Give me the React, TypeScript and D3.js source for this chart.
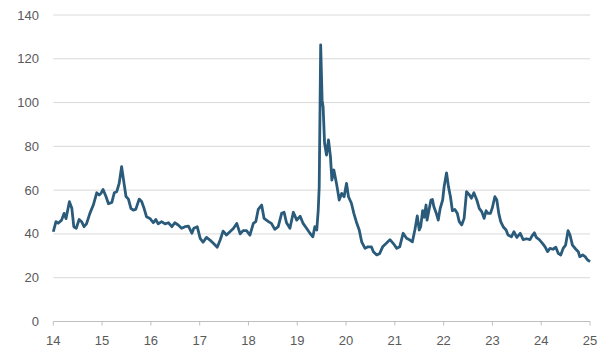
// Line chart of an index level by year, 2014 to 2025

import React from "react"
import * as d3 from "d3"

// decimal years (14 = start of 2014)
const dates = [
  14.0, 14.055, 14.1, 14.17, 14.22, 14.26, 14.33, 14.38, 14.42, 14.47, 14.53, 14.58, 14.63, 14.68, 14.75, 14.82, 14.89, 14.94, 14.98,
  15.02, 15.08, 15.13, 15.2, 15.25, 15.3, 15.35, 15.4, 15.45, 15.49, 15.54, 15.59, 15.64, 15.69, 15.76, 15.81, 15.86, 15.91, 15.98,
  16.05, 16.1, 16.15, 16.22, 16.29, 16.36, 16.43, 16.49, 16.56, 16.63, 16.7, 16.77, 16.84, 16.88, 16.95,
  17.01, 17.07, 17.14, 17.21, 17.28, 17.36, 17.42, 17.48, 17.55, 17.62, 17.69, 17.76, 17.83, 17.89, 17.96,
  18.03, 18.1, 18.15, 18.2, 18.27, 18.32, 18.41, 18.47, 18.54, 18.61, 18.68, 18.73, 18.78, 18.85, 18.92, 18.99,
  19.06, 19.12, 19.19, 19.26, 19.32, 19.36, 19.4, 19.43, 19.45, 19.48, 19.51, 19.53, 19.56, 19.6, 19.64, 19.68, 19.71, 19.75, 19.81, 19.86, 19.91, 19.96,
  20.01, 20.05, 20.11, 20.16, 20.21, 20.27, 20.32, 20.39, 20.45, 20.52, 20.56, 20.63, 20.69, 20.75, 20.82, 20.9, 20.97,
  21.04, 21.1, 21.17, 21.24, 21.31, 21.36, 21.41, 21.46, 21.5, 21.53, 21.57, 21.6, 21.64, 21.66, 21.7, 21.74, 21.77, 21.8, 21.85, 21.89, 21.93, 21.98,
  22.01, 22.06, 22.1, 22.14, 22.18, 22.23, 22.28, 22.32, 22.37, 22.42, 22.47, 22.53, 22.57, 22.62, 22.68, 22.73, 22.78, 22.83, 22.87, 22.91, 22.96,
  23.0, 23.05, 23.09, 23.13, 23.17, 23.22, 23.28, 23.32, 23.39, 23.44, 23.5, 23.57, 23.63, 23.7, 23.77, 23.81, 23.86, 23.9, 23.96,
  24.03, 24.08, 24.13, 24.18, 24.24, 24.3, 24.35, 24.4, 24.45, 24.5, 24.55, 24.59, 24.64, 24.71, 24.76, 24.79, 24.85, 24.9, 24.95, 25.0,
]

const values = [
  41, 45.6, 44.9, 46.3, 49.4, 47, 54.7, 51.7, 43.3, 42.6, 46.6, 45.6, 43.3, 44.6, 49.4, 53.2, 58.8, 57.8, 58.6,
  60.3, 57.1, 53.8, 54.4, 58.8, 59.3, 63.1, 70.7, 63.1, 57.1, 55.9, 51.7, 50.9, 51.2, 55.9, 54.8, 51.7, 47.9, 47.1,
  45.1, 46.6, 44.6, 45.6, 44.6, 45.1, 43.3, 45.1, 44.1, 42.6, 43.3, 43.6, 40.3, 42.6, 43.3,
  38, 36.2, 38.4, 37.2, 35.7, 33.9, 37.2, 41.3, 39.5, 41, 42.5, 44.8, 40, 41.5, 41.5,
  39.5, 44.8, 45.6, 51.2, 53.2, 47.1, 45.6, 44.8, 42.1, 43.3, 49.4, 49.9, 45.1, 42.6, 49.9, 46.3,
  48.1, 44.8, 42.6, 40.3, 38.7, 43.3, 41.8, 50.9, 61.5, 126.3, 101, 98, 81.4, 76, 82.9, 75.4, 64.6, 69.2, 62.3, 55.5, 58.5, 57,
  63.1, 57, 54, 49.4, 45.6, 41.8, 36.4, 33.4, 34.1, 34.1, 31.9, 30.4, 31.1, 34.1, 35.6, 37.4, 35.6,
  33.4, 34.1, 40.3, 38, 37.2, 36.4, 41.8, 48.2, 41.8, 43.3, 50.6, 47.6, 53.2, 46.3, 50.9, 55.5, 55.7, 52.4, 49.4, 46.3, 51.7, 55.5,
  61.5, 67.9, 61.5, 57, 50.6, 51.2, 49.4, 45.6, 44.1, 47.1, 59.3, 57.8, 56.3, 58.8, 55.5, 51.7, 50.2, 47.1, 50.6, 49.4, 49.4,
  52.1, 57, 55.5, 49.4, 45.6, 43.3, 41.8, 39.5, 38.7, 41, 38.4, 40.3, 37.4, 37.8, 37.4, 39, 40.5, 38.4, 37.4,
  35.6, 34.1, 31.9, 33.4, 33, 33.9, 31.1, 30.4, 33.4, 34.9, 41.5, 39.5, 34.9, 33, 31.9, 29.6, 30.4, 29.6, 28.1, 27.3,
]

const yTicks = [0, 20, 40, 60, 80, 100, 120, 140]
const xTicks = [14, 15, 16, 17, 18, 19, 20, 21, 22, 23, 24, 25]

export default function App() {
  const width = 613
  const height = 362

  const x = d3.scaleLinear().domain([14, 25]).range([53.3, 590])
  const y = d3.scaleLinear().domain([0, 140]).range([321.5, 15])

  const points: [number, number][] = dates.map((d, i) => [d, values[i]])
  const line = d3.line<[number, number]>()
    .x(d => x(d[0]))
    .y(d => y(d[1]))

  const font = "'Liberation Sans', Arial, sans-serif"

  return (
    <svg
      width={width}
      height={height}
      style={{ position: "absolute", left: 0, top: 0, background: "#fff" }}
    >
      {/* gridlines */}
      {yTicks.filter(t => t > 0).map(t => (
        <line key={t} x1={x(14)} x2={x(25)} y1={y(t)} y2={y(t)} stroke="#d9d9d9" strokeWidth={1} />
      ))}
      {/* baseline + ticks */}
      <line x1={x(14)} x2={x(25)} y1={y(0)} y2={y(0)} stroke="#bfbfbf" strokeWidth={1} />
      {xTicks.map(t => (
        <line key={t} x1={x(t)} x2={x(t)} y1={y(0)} y2={y(0) + 4} stroke="#bfbfbf" strokeWidth={1} />
      ))}
      {yTicks.map(t => (
        <text key={t} x={39} y={y(t)} dy="0.35em" textAnchor="end" fontSize={13} fill="#595959" fontFamily={font}>
          {t}
        </text>
      ))}
      {xTicks.map(t => (
        <text key={t} x={x(t)} y={345} textAnchor="middle" fontSize={13} fill="#595959" fontFamily={font}>
          {t}
        </text>
      ))}
      <path d={line(points) || ""} fill="none" stroke="#2b5b7b" strokeWidth={2.8} strokeLinejoin="round" />
    </svg>
  )
}
